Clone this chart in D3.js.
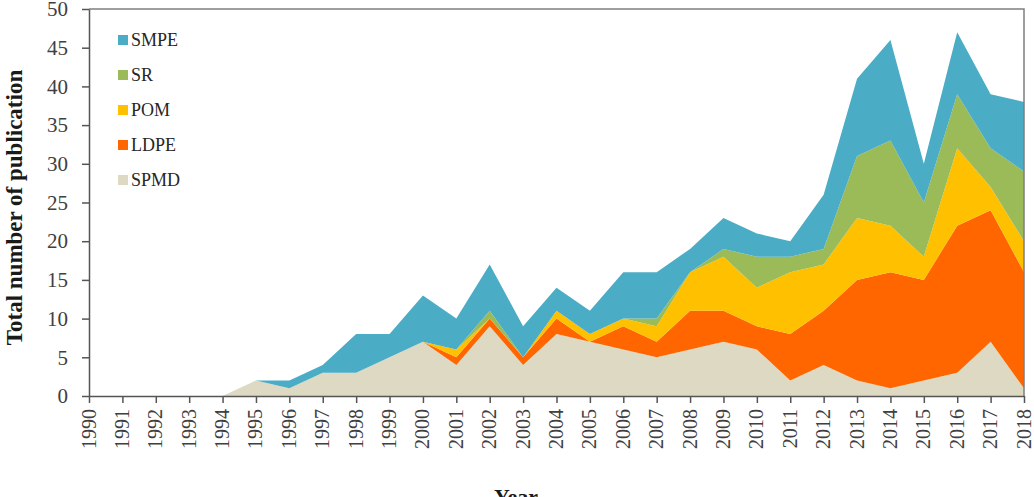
<!DOCTYPE html>
<html>
<head>
<meta charset="utf-8">
<script src="https://cdn.jsdelivr.net/npm/d3@7"></script>
<style>
  html, body { margin: 0; padding: 0; background: #fff; overflow: hidden; }
  svg { display: block; font-family: "Liberation Serif", "Times New Roman", serif; }
</style>
</head>
<body>
<div id="chart"></div>
<script>
// publications per year, stacked (bottom series first)
const years = d3.range(1990, 2019);
const seriesNames = ["SPMD", "LDPE", "POM", "SR", "SMPE"];
const colors = ["#ddd9c3", "#ff6600", "#ffc000", "#9bbb59", "#4bacc6"];

const SPMD = [0,0,0,0,0, 2,1,3,3,5, 7,4,9,4,8, 7,6,5,6,7, 6,2,4,2,1, 2,3,7,1];
const LDPE = [0,0,0,0,0, 0,0,0,0,0, 0,1,1,1,2, 0,3,2,5,4, 3,6,7,13,15, 13,19,17,15];
const POM  = [0,0,0,0,0, 0,0,0,0,0, 0,1,0,0,1, 1,1,2,5,7, 5,8,6,8,6, 3,10,3,4];
const SR   = [0,0,0,0,0, 0,0,0,0,0, 0,0,1,0,0, 0,0,1,0,1, 4,2,2,8,11, 7,7,5,9];
const SMPE = [0,0,0,0,0, 0,1,1,5,3, 6,4,6,4,3, 3,6,6,3,4, 3,2,7,10,13, 5,8,7,9];

const yTicks = d3.range(0, 51, 5);
const legendOrder = ["SMPE", "SR", "POM", "LDPE", "SPMD"];

const WIDTH = 1034, HEIGHT = 497;
const mLeft = 89, mRight = 1024, mTop = 9, mBottom = 396;

const rows = years.map((yr, i) => ({
  year: yr, SPMD: SPMD[i], LDPE: LDPE[i], POM: POM[i], SR: SR[i], SMPE: SMPE[i]
}));

const svg = d3.select("#chart").append("svg")
  .attr("width", WIDTH).attr("height", HEIGHT);

const x = d3.scaleLinear().domain([1990, 2018]).range([mLeft, mRight]);
const y = d3.scaleLinear().domain([0, 50]).range([mBottom, mTop]);
const color = d3.scaleOrdinal().domain(seriesNames).range(colors);

const stacked = d3.stack().keys(seriesNames)(rows);
const area = d3.area()
  .x(d => x(d.data.year))
  .y0(d => y(d[0]))
  .y1(d => y(d[1]));

svg.append("g").selectAll("path")
  .data(stacked)
  .join("path")
    .attr("d", area)
    .attr("fill", d => color(d.key));

// frame (top + right)
svg.append("path")
  .attr("d", `M${mLeft},${mTop}H${mRight}V${mBottom}`)
  .attr("fill", "none").attr("stroke", "#7f7f7f").attr("stroke-width", 1.5);

// y axis
const yAxis = svg.append("g")
  .attr("transform", `translate(${mLeft},0)`)
  .call(d3.axisLeft(y).tickValues(yTicks).tickSize(7).tickSizeOuter(0).tickPadding(14));
yAxis.select(".domain").attr("stroke", "#555").attr("stroke-width", 1.5);
yAxis.selectAll(".tick line").attr("stroke", "#555").attr("stroke-width", 1.5);
yAxis.selectAll(".tick text")
  .attr("font-size", 21).attr("fill", "#404040")
  .attr("font-family", "Liberation Serif");

// x axis
const xAxis = svg.append("g")
  .attr("transform", `translate(0,${mBottom})`)
  .call(d3.axisBottom(x).tickValues(years).tickFormat(d3.format("d")).tickSize(7).tickSizeOuter(0));
xAxis.select(".domain").attr("stroke", "#555").attr("stroke-width", 1.5);
xAxis.selectAll(".tick line").attr("stroke", "#555").attr("stroke-width", 1.5);
xAxis.selectAll(".tick text")
  .attr("font-size", 20).attr("fill", "#404040")
  .attr("font-family", "Liberation Serif")
  .attr("text-anchor", "end")
  .attr("dy", "0.3em")
  .attr("transform", "translate(0,13) rotate(-90)")
  .attr("x", 0).attr("y", 0);

// axis titles
svg.append("text")
  .attr("transform", `translate(22,${(mTop + mBottom) / 2 + 5}) rotate(-90)`)
  .attr("text-anchor", "middle")
  .attr("font-size", 23).attr("font-weight", "bold").attr("fill", "#1a1a1a")
  .text("Total number of publication");

svg.append("text")
  .attr("x", 516).attr("y", 504)
  .attr("text-anchor", "middle")
  .attr("font-size", 22).attr("font-weight", "bold").attr("fill", "#1a1a1a")
  .text("Year");

// legend
const legend = svg.append("g").selectAll("g")
  .data(legendOrder)
  .join("g")
    .attr("transform", (d, i) => `translate(118,${40 + i * 35})`);
legend.append("rect")
  .attr("x", 0).attr("y", -5).attr("width", 10).attr("height", 10)
  .attr("fill", d => color(d));
legend.append("text")
  .attr("x", 13).attr("y", 0).attr("dy", "0.35em")
  .attr("font-size", 18).attr("fill", "#262626")
  .text(d => d);
</script>
</body>
</html>
